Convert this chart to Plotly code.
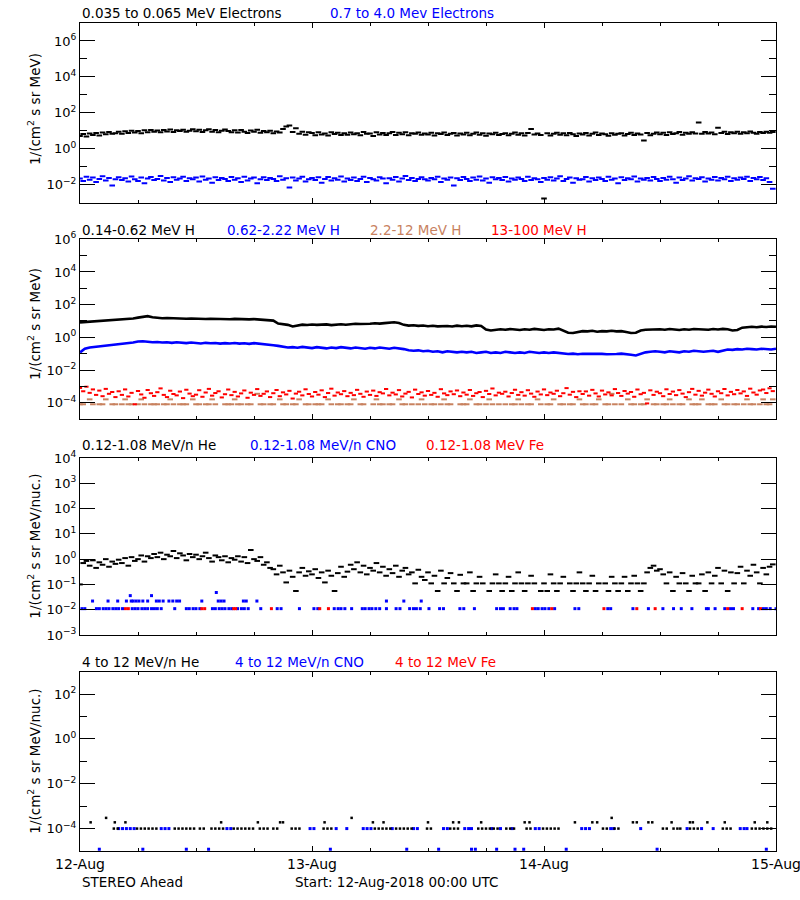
import plotly.graph_objects as go
from datetime import datetime, timedelta

START = datetime(2018, 8, 12)
DAY_LABELS = ["12-Aug", "13-Aug", "14-Aug", "15-Aug"]

# ---------------- Panel 1: electrons (20-min cadence) ----------------
e_low = [
    5.2, 6.6, 4.8, 7.0, 5.8, 7.6, 5.4, 8.0, 6.4, 8.6, 6.9, 7.4,
    8.8, 6.8, 9.4, 7.6, 10.2, 8.0, 9.6, 7.2, 10.6, 8.4, 11.0, 9.0,
    10.4, 8.2, 11.2, 9.2, 12.0, 8.6, 10.8, 9.8, 11.6, 8.8, 10.0, 12.2,
    9.4, 11.4, 8.6, 10.6, 12.4, 9.0, 11.0, 8.2, 10.2, 11.8, 9.6, 8.4,
    10.8, 8.0, 11.2, 9.0, 7.6, 10.4, 8.8, 11.6, 7.8, 9.8, 8.4, 10.0,
    7.4, 9.2, 8.0, 12.5, 17.5, 19.5, 8.6, 14.0, 6.8, 9.0, 6.0, 8.2,
    7.6, 5.6, 8.2, 6.2, 7.0, 5.4, 8.4, 6.6, 7.8, 5.8, 7.2, 6.0,
    8.0, 6.4, 7.4, 5.6, 8.6, 6.8, 7.0, 5.2, 8.2, 6.2, 7.6, 5.8,
    7.2, 8.6, 5.9, 7.8, 6.4, 8.2, 5.6, 7.4, 6.8, 8.0, 6.0, 7.0,
    6.2, 7.8, 5.4, 7.2, 6.6, 8.0, 5.8, 6.9, 7.5, 5.5, 7.1, 6.3,
    7.7, 5.7, 6.8, 8.1, 6.0, 7.3, 5.3, 7.0, 6.5, 7.9, 5.9, 6.7,
    7.4, 5.6, 6.9, 8.0, 6.1, 7.2, 5.4, 7.6, 12.8, 6.3, 7.0, 5.8,
    0.0017, 7.3, 5.5, 6.8, 7.9, 6.0, 7.2, 5.6, 7.6, 6.4, 5.2, 7.0,
    6.2, 7.5, 5.4, 6.9, 8.0, 5.8, 7.1, 6.5, 5.3, 7.4, 6.0, 6.8,
    7.2, 5.5, 6.6, 7.8, 5.9, 7.0, 6.3, 2.9, 7.5, 5.7, 6.9, 8.0,
    6.4, 7.7, 5.8, 8.2, 6.7, 7.3, 8.5, 6.1, 7.9, 6.9, 8.4, 7.1,
    29.0, 6.8, 8.6, 7.0, 8.0, 6.5, 15.0, 7.6, 8.8, 6.6, 8.2, 7.4,
    8.9, 6.9, 8.3, 7.2, 9.1, 7.8, 6.8, 8.7, 7.5, 9.0, 7.7, 8.5,
]
e_high = [
    0.022, 0.016, 0.028, 0.019, 0.025, 0.014, 0.021, 0.030, 0.017, 0.024, 0.009, 0.020,
    0.026, 0.018, 0.023, 0.015, 0.029, 0.020, 0.016, 0.025, 0.012, 0.022, 0.027, 0.018,
    0.021, 0.031, 0.017, 0.024, 0.014, 0.026, 0.019, 0.022, 0.028, 0.016, 0.023, 0.020,
    0.025, 0.015, 0.029, 0.019, 0.022, 0.013, 0.026, 0.018, 0.024, 0.021, 0.016, 0.027,
    0.019, 0.023, 0.014, 0.028, 0.017, 0.022, 0.025, 0.012, 0.020, 0.026, 0.018, 0.024,
    0.021, 0.016, 0.030, 0.019, 0.023, 0.007, 0.025, 0.017, 0.022, 0.028, 0.015, 0.020,
    0.024, 0.018, 0.026, 0.013, 0.021, 0.027, 0.017, 0.023, 0.019, 0.029, 0.015, 0.022,
    0.018, 0.025, 0.016, 0.021, 0.028, 0.014, 0.024, 0.020, 0.017, 0.026, 0.022, 0.012,
    0.023, 0.019, 0.027, 0.015, 0.022, 0.031, 0.018, 0.024, 0.016, 0.021, 0.026, 0.020,
    0.017, 0.024, 0.020, 0.028, 0.014, 0.022, 0.019, 0.025, 0.009, 0.023, 0.018, 0.027,
    0.021, 0.016, 0.025, 0.019, 0.029, 0.017, 0.022, 0.013, 0.026, 0.020, 0.024, 0.018,
    0.027, 0.015, 0.022, 0.019, 0.025, 0.021, 0.016, 0.028, 0.018, 0.023, 0.020, 0.014,
    0.024, 0.019, 0.026, 0.017, 0.022, 0.030, 0.016, 0.021, 0.025, 0.013, 0.023, 0.019,
    0.020, 0.027, 0.015, 0.023, 0.018, 0.025, 0.021, 0.016, 0.028, 0.019, 0.022, 0.012,
    0.026, 0.018, 0.023, 0.020, 0.029, 0.015, 0.022, 0.019, 0.024, 0.017, 0.027, 0.021,
    0.016, 0.024, 0.019, 0.028, 0.020, 0.013, 0.025, 0.018, 0.022, 0.030, 0.017, 0.023,
    0.021, 0.026, 0.015, 0.022, 0.019, 0.027, 0.017, 0.024, 0.020, 0.028, 0.016, 0.023,
    0.019, 0.025, 0.021, 0.028, 0.016, 0.024, 0.020, 0.027, 0.018, 0.023, 0.014, 0.006,
]

# ---------------- Panel 2: protons ----------------
# 30-min cadence
h_low = [
    8.2, 8.6, 9.0, 9.3, 9.8, 10.2, 10.6, 11.0, 11.5, 12.0,
    13.0, 14.2, 16.0, 18.5, 19.8, 17.0, 15.5, 14.8, 15.2, 14.6,
    14.0, 14.5, 13.8, 14.2, 13.6, 13.9, 13.2, 13.8, 13.4, 13.0,
    13.3, 12.8, 13.5, 12.9, 13.1, 12.6, 13.0, 12.4, 12.8, 12.2,
    10.5, 7.0, 6.2, 5.8, 4.6, 5.5, 6.0, 5.7, 6.1, 5.8,
    5.9, 6.2, 5.6, 6.0, 6.3, 5.9, 6.4, 6.8, 6.5, 7.0,
    6.8, 7.2, 6.9, 7.4, 7.8, 8.4, 7.5, 5.8, 5.2, 5.5,
    5.0, 5.3, 4.8, 5.1, 4.7, 5.0, 4.9, 4.6, 5.2, 4.8,
    5.1, 4.7, 5.4, 5.0, 3.0, 2.6, 2.8, 3.1, 2.9, 3.2,
    3.0, 2.8, 3.1, 2.9, 3.3, 3.0, 2.8, 3.1, 3.0, 3.4,
    2.4, 1.9, 1.85, 2.2, 2.4, 2.3, 2.5, 2.2, 2.4, 2.3,
    2.5, 2.3, 2.4, 2.1, 1.85, 1.9, 2.6, 2.9, 3.0, 2.8,
    3.1, 2.9, 3.2, 3.0, 2.8, 3.1, 2.9, 3.2, 3.0, 3.1,
    2.9, 3.2, 3.0, 3.3, 3.1, 2.6, 2.8, 3.9, 4.2, 4.4,
    4.1, 4.5, 4.3, 4.6, 4.4,
]
h_mid = [
    0.12, 0.20, 0.24, 0.26, 0.28, 0.30, 0.32, 0.34, 0.36, 0.38,
    0.42, 0.48, 0.55, 0.58, 0.54, 0.50, 0.52, 0.48, 0.50, 0.46,
    0.50, 0.47, 0.44, 0.48, 0.45, 0.42, 0.46, 0.43, 0.45, 0.41,
    0.44, 0.42, 0.45, 0.41, 0.43, 0.40, 0.44, 0.42, 0.40, 0.38,
    0.33, 0.30, 0.26, 0.24, 0.25, 0.23, 0.26, 0.24, 0.22, 0.25,
    0.23, 0.21, 0.24, 0.22, 0.25, 0.23, 0.21, 0.24, 0.22, 0.20,
    0.23, 0.21, 0.24, 0.22, 0.20, 0.23, 0.22, 0.19, 0.16, 0.15,
    0.16, 0.14, 0.15, 0.13, 0.14, 0.12, 0.14, 0.13, 0.12, 0.13,
    0.12, 0.13, 0.11, 0.12, 0.13, 0.11, 0.12, 0.11, 0.13, 0.12,
    0.11, 0.12, 0.11, 0.13, 0.12, 0.11, 0.12, 0.11, 0.12, 0.11,
    0.100, 0.095, 0.100, 0.092, 0.098, 0.100, 0.094, 0.100, 0.097, 0.093,
    0.099, 0.095, 0.100, 0.096, 0.085, 0.078, 0.100, 0.12, 0.13, 0.14,
    0.13, 0.12, 0.14, 0.13, 0.12, 0.14, 0.13, 0.15, 0.14, 0.13,
    0.14, 0.15, 0.13, 0.16, 0.18, 0.17, 0.19, 0.18, 0.20, 0.19,
    0.18, 0.20, 0.19, 0.18, 0.20,
]
# 20-min cadence
h_brown = [
    8e-5, 8e-5, None, 1.6e-4, 8e-5, None, 8e-5, 8e-5, 1.6e-4, None, 8e-5, 8e-5,
    None, 8e-5, 1.6e-4, 8e-5, 8e-5, None, 8e-5, 1.6e-4, 8e-5, None, 8e-5, 8e-5,
    8e-5, None, 8e-5, 8e-5, 1.6e-4, 8e-5, None, 8e-5, 8e-5, 8e-5, None, 1.6e-4,
    8e-5, 8e-5, None, 8e-5, 8e-5, 1.6e-4, 8e-5, None, None, 8e-5, 8e-5, 8e-5,
    1.6e-4, 8e-5, 8e-5, None, 8e-5, 8e-5, None, 3.5e-4, 8e-5, 8e-5, None, 8e-5,
    8e-5, None, 1.6e-4, 8e-5, 8e-5, None, 8e-5, 8e-5, 1.6e-4, None, 8e-5, 8e-5,
    None, 8e-5, 8e-5, 8e-5, None, 1.6e-4, 8e-5, None, 8e-5, 8e-5, None, 8e-5,
    8e-5, 1.6e-4, None, 8e-5, 8e-5, None, None, 8e-5, 1.6e-4, 8e-5, 8e-5, None,
    8e-5, 8e-5, None, 1.6e-4, 8e-5, 8e-5, None, 8e-5, None, 8e-5, 1.6e-4, 8e-5,
    None, 8e-5, 8e-5, None, 8e-5, 1.6e-4, 8e-5, 8e-5, None, None, 8e-5, 8e-5,
    8e-5, 1.6e-4, None, 8e-5, 8e-5, None, 8e-5, 1.6e-4, 8e-5, None, 8e-5, None,
    8e-5, None, 8e-5, 8e-5, 1.6e-4, 8e-5, None, 8e-5, 8e-5, None, 1.6e-4, 8e-5,
    None, 8e-5, 8e-5, 1.6e-4, None, 8e-5, 8e-5, None, 8e-5, 8e-5, None, 1.6e-4,
    8e-5, 8e-5, None, 8e-5, 8e-5, 1.6e-4, None, 8e-5, 8e-5, 3.5e-4, 8e-5, None,
    8e-5, None, 1.6e-4, 8e-5, 8e-5, None, 8e-5, 8e-5, 1.6e-4, None, 8e-5, 8e-5,
    None, 8e-5, 8e-5, 1.6e-4, 8e-5, None, 8e-5, 8e-5, None, 1.6e-4, 8e-5, 8e-5,
    8e-5, 1.6e-4, None, 8e-5, 8e-5, 8e-5, None, 1.6e-4, 8e-5, 8e-5, None, 8e-5,
    8e-5, None, 8e-5, 1.6e-4, 8e-5, 8e-5, None, 8e-5, 1.6e-4, 8e-5, 8e-5, 1.6e-4,
]
h_high = [
    8e-4, 5e-4, 9.5e-4, 4e-4, 6.5e-4, 3e-4, 5.5e-4, 2.5e-4, 7e-4, 3.5e-4, 4.5e-4, 2.2e-4,
    5e-4, 3e-4, 6.5e-4, 2.4e-4, 4e-4, 8e-5, 5.2e-4, 3.2e-4, 2e-4, 6e-4, 3.8e-4, 2.6e-4,
    4.4e-4, 7.5e-4, 3e-4, 2.2e-4, 5.4e-4, 3.4e-4, 2.8e-4, 4.8e-4, 1.9e-4, 6.2e-4, 3.6e-4, 2.5e-4,
    3.1e-4, 5.8e-4, 2.3e-4, 4.2e-4, 7e-4, 2.7e-4, 3.9e-4, 5e-4, 2.1e-4, 3.3e-4, 6.4e-4, 2.9e-4,
    4.6e-4, 2.4e-4, 3.7e-4, 5.6e-4, 2e-4, 4.1e-4, 3e-4, 6.8e-4, 2.6e-4, 3.5e-4, 4.9e-4, 2.2e-4,
    3.8e-4, 6e-4, 2.5e-4, 4.3e-4, 3.2e-4, 5.3e-4, 1.8e-4, 3.6e-4, 4.7e-4, 2.8e-4, 6.6e-4, 3.4e-4,
    2.4e-4, 4.5e-4, 3.1e-4, 5.7e-4, 2.2e-4, 3.9e-4, 7.2e-4, 2.7e-4, 4.2e-4, 3.3e-4, 5.1e-4, 2.5e-4,
    4e-4, 2.9e-4, 6.1e-4, 3.5e-4, 2.3e-4, 4.8e-4, 3e-4, 5.5e-4, 2.6e-4, 4.4e-4, 3.7e-4, 6.9e-4,
    2.8e-4, 4.1e-4, 3.2e-4, 5.9e-4, 2.4e-4, 3.6e-4, 4.6e-4, 2.1e-4, 6.3e-4, 3.4e-4, 4.3e-4, 2.7e-4,
    5.2e-4, 3e-4, 4e-4, 2.3e-4, 6.7e-4, 3.7e-4, 2.9e-4, 4.9e-4, 3.3e-4, 5.6e-4, 2.5e-4, 4.2e-4,
    3.1e-4, 6e-4, 2.6e-4, 3.8e-4, 4.5e-4, 2.2e-4, 5.3e-4, 3.4e-4, 7.4e-4, 2.8e-4, 4.1e-4, 3.5e-4,
    4.7e-4, 2.4e-4, 3.9e-4, 6.2e-4, 3e-4, 4.4e-4, 2.7e-4, 5.8e-4, 3.6e-4, 2.3e-4, 4.8e-4, 3.2e-4,
    6.5e-4, 2.9e-4, 4.2e-4, 3.5e-4, 5.4e-4, 2.5e-4, 3.8e-4, 7.8e-4, 3.1e-4, 4.6e-4, 2.2e-4, 5e-4,
    3.4e-4, 4.9e-4, 2.7e-4, 6.1e-4, 3.7e-4, 2.4e-4, 5.5e-4, 3.2e-4, 4.3e-4, 2.8e-4, 6.8e-4, 3.9e-4,
    2.6e-4, 5.2e-4, 3.6e-4, 4.5e-4, 2.3e-4, 6.4e-4, 3.3e-4, 4e-4, 9e-5, 5.7e-4, 3e-4, 4.7e-4,
    3.8e-4, 2.5e-4, 6.6e-4, 3.4e-4, 4.8e-4, 2.9e-4, 5.9e-4, 3.6e-4, 2.2e-4, 4.4e-4, 7e-4, 3.1e-4,
    5.3e-4, 2.7e-4, 4.1e-4, 6.3e-4, 3.5e-4, 2.4e-4, 5e-4, 3.8e-4, 6.9e-4, 2.8e-4, 4.6e-4, 3.3e-4,
    6e-4, 3.7e-4, 4.9e-4, 2.6e-4, 7.2e-4, 4.2e-4, 3.1e-4, 5.6e-4, 6.4e-4, 3.9e-4, 7.6e-4, 5.1e-4,
]

# ---------------- Panel 3: 0.12-1.08 MeV/n heavy ions ----------------
he_low = [
    0.1, 0.7, 0.85, 0.55, 0.9, 0.45, 0.75, 0.6, 1.0, 0.5, 0.8, 0.65,
    0.95, 0.7, 1.1, 0.55, 1.2, 0.85, 1.0, 1.4, 0.8, 1.3, 1.1, 1.6,
    1.2, 1.8, 1.0, 1.5, 1.3, 2.1, 1.1, 1.7, 1.4, 0.9, 1.6, 1.2,
    1.5, 1.0, 1.3, 1.8, 1.1, 0.8, 1.4, 1.2, 0.9, 1.3, 0.75, 1.1,
    0.95, 1.3, 0.8, 1.2, 0.7, 2.3, 1.0, 0.85, 1.2, 0.6, 0.75, 0.45,
    0.4, 0.25, 0.55, 0.3, 0.12, 0.35, 0.2, 0.055, 0.3, 0.45, 0.22, 0.33,
    0.25, 0.4, 0.18, 0.3, 0.12, 0.35, 0.22, 0.055, 0.28, 0.5, 0.2, 0.32,
    0.6, 0.4, 0.75, 0.3, 0.55, 0.25, 0.45, 0.35, 0.7, 0.3, 0.5, 0.22,
    0.4, 0.28, 0.55, 0.2, 0.35, 0.45, 0.25, 0.3, 0.11, 0.38, 0.2, 0.15,
    0.3, 0.11, 0.22, 0.055, 0.35, 0.11, 0.18, 0.28, 0.11, 0.055, 0.24, 0.11,
    0.11, 0.3, 0.055, 0.11, 0.2, 0.11, None, 0.055, 0.11, 0.25, 0.11, 0.055,
    0.11, 0.2, 0.055, 0.11, 0.3, 0.11, 0.055, 0.11, 0.22, 0.11, None, 0.055,
    0.11, 0.055, 0.25, 0.11, 0.055, 0.11, 0.2, None, 0.11, 0.055, 0.11, 0.3,
    0.11, 0.055, 0.11, 0.22, 0.055, 0.11, None, 0.11, 0.055, 0.2, 0.11, 0.055,
    0.11, 0.2, 0.055, 0.11, 0.22, 0.11, 0.055, 0.11, 0.3, 0.45, 0.55, 0.35,
    0.4, 0.25, 0.11, 0.3, 0.055, 0.2, 0.11, 0.28, 0.11, 0.055, 0.22, 0.11,
    0.11, 0.25, 0.055, 0.3, 0.11, 0.22, 0.45, 0.11, 0.35, 0.055, 0.3, 0.11,
    0.28, 0.5, 0.11, 0.35, 0.22, 0.6, 0.3, 0.11, 0.45, 0.25, 0.5, 0.62,
]
cno_low_hours = [
    0.2, 0.5, 1.7, 2.0, 2.4, 2.7, 3.0, 3.4, 3.7, 4.0, 4.4, 5.4, 5.7, 6.0, 6.4,
    6.7, 7.0, 7.4, 7.7, 8.0, 8.4, 9.8, 11.0, 11.3, 11.7, 12.0, 12.4, 13.7, 14.0,
    14.4, 14.7, 15.0, 15.4, 15.7, 16.3, 16.7, 17.0, 17.4, 18.7, 20.4, 20.8, 22.7,
    24.2, 24.6, 26.3, 26.7, 27.0, 27.4, 28.1, 29.2, 29.5, 29.9, 30.2, 30.6, 31.0,
    31.7, 32.7, 33.1, 34.1, 34.5, 34.8, 35.2, 36.1, 37.2, 37.6, 39.3, 39.7, 40.8,
    43.1, 43.5, 43.8, 44.5, 44.9, 45.2, 47.1, 47.4, 47.8, 48.1, 48.5, 49.1, 51.2,
    51.6, 54.6, 54.9, 57.2, 58.8, 60.3, 61.4, 62.2, 63.3, 64.8, 65.0, 65.7, 66.7,
    67.3, 67.6, 69.6, 70.2, 70.7, 71.0, 71.4, 72.0,
    1.3, 2.9, 3.9, 4.8, 5.3, 5.5, 5.8, 6.1, 6.5, 7.0, 7.9, 8.2, 8.6, 9.2, 9.6,
    10.0, 10.3, 12.6, 14.3, 14.6, 14.9, 16.9, 17.2, 18.3, 31.7, 33.5, 35.3,
    5.2, 7.4, 14.1,
]
cno_low_vals = [
    0.011, 0.011, 0.011, 0.011, 0.011, 0.011, 0.011, 0.011, 0.011, 0.011, 0.011, 0.011, 0.011, 0.011, 0.011,
    0.011, 0.011, 0.011, 0.011, 0.011, 0.011, 0.011, 0.011, 0.011, 0.011, 0.011, 0.011, 0.011, 0.011,
    0.011, 0.011, 0.011, 0.011, 0.011, 0.011, 0.011, 0.011, 0.011, 0.011, 0.011, 0.011, 0.011,
    0.011, 0.011, 0.011, 0.011, 0.011, 0.011, 0.011, 0.011, 0.011, 0.011, 0.011, 0.011, 0.011,
    0.011, 0.011, 0.011, 0.011, 0.011, 0.011, 0.011, 0.011, 0.011, 0.011, 0.011, 0.011, 0.011,
    0.011, 0.011, 0.011, 0.011, 0.011, 0.011, 0.011, 0.011, 0.011, 0.011, 0.011, 0.011, 0.011,
    0.011, 0.011, 0.011, 0.011, 0.011, 0.011, 0.011, 0.011, 0.011, 0.011, 0.011, 0.011, 0.011,
    0.011, 0.011, 0.011, 0.011, 0.011, 0.011, 0.011, 0.011,
    0.022, 0.022, 0.022, 0.022, 0.022, 0.022, 0.022, 0.022, 0.022, 0.022, 0.022, 0.022, 0.022, 0.022, 0.022,
    0.022, 0.022, 0.022, 0.022, 0.022, 0.022, 0.022, 0.022, 0.022, 0.022, 0.022, 0.022,
    0.036, 0.036, 0.048,
]
fe_low_hours = [4.7, 5.0, 12.6, 12.9, 15.9, 16.1, 19.8, 24.8, 25.7, 46.8, 48.8,
                54.2, 57.6, 59.5, 67.0, 68.5, 70.4]
fe_low_vals = [0.011, 0.011, 0.011, 0.011, 0.011, 0.011, 0.011, 0.011, 0.011, 0.011, 0.011,
               0.011, 0.011, 0.011, 0.011, 0.011, 0.011]

# ---------------- Panel 4: 4-12 MeV/n heavy ions ----------------
he_high_hours = [
    1.1, 2.7, 3.6, 4.7, 14.6, 18.4, 20.7, 21.0, 25.3, 28.1, 30.3, 31.4, 36.0,
    38.6, 39.2, 41.5, 46.0, 46.5, 51.2, 53.0, 53.5, 55.0, 57.2, 57.6, 58.8, 59.2,
    61.2, 63.1, 63.4, 64.9, 66.7, 69.8, 71.1,
    3.5, 3.9, 5.9, 6.3, 6.7, 7.1, 7.5, 7.9, 9.8, 10.2, 10.6, 11.0, 11.4, 11.8,
    12.4, 12.8, 13.6, 14.0, 14.4, 14.8, 15.9, 16.3, 16.7, 17.1, 17.5, 17.9, 18.6,
    19.0, 19.4, 20.0, 20.4, 21.9, 22.3, 22.7, 25.2, 25.6, 26.0, 30.5, 30.9, 31.3,
    31.7, 32.1, 32.7, 33.1, 33.5, 33.9, 34.3, 35.9, 36.3, 38.3, 38.7, 39.1, 41.2,
    41.6, 42.0, 42.4, 42.8, 43.2, 44.1, 44.5, 44.9, 46.2, 46.6, 47.9, 48.3, 48.7,
    49.1, 49.5, 54.1, 54.5, 55.3, 55.7, 60.3, 60.7, 61.4, 61.8, 62.1, 63.1, 63.5,
    63.9, 66.5, 66.9, 67.3, 69.5, 69.9, 70.3, 70.7, 71.1, 71.5, 71.9,
]
he_high_vals = [
    1.9e-4, 3e-4, 1.9e-4, 1.9e-4, 1.9e-4, 1.9e-4, 1.9e-4, 1.9e-4, 1.9e-4, 3e-4, 1.9e-4, 1.9e-4, 1.9e-4,
    1.9e-4, 1.9e-4, 1.9e-4, 1.9e-4, 1.9e-4, 1.9e-4, 1.9e-4, 1.9e-4, 3e-4, 1.9e-4, 1.9e-4, 1.9e-4, 1.9e-4,
    1.9e-4, 1.9e-4, 1.9e-4, 1.9e-4, 1.9e-4, 1.9e-4, 1.9e-4,
    1e-4, 1e-4, 1e-4, 1e-4, 1e-4, 1e-4, 1e-4, 1e-4, 1e-4, 1e-4, 1e-4, 1e-4, 1e-4, 1e-4,
    1e-4, 1e-4, 1e-4, 1e-4, 1e-4, 1e-4, 1e-4, 1e-4, 1e-4, 1e-4, 1e-4, 1e-4, 1e-4,
    1e-4, 1e-4, 1e-4, 1e-4, 1e-4, 1e-4, 1e-4, 1e-4, 1e-4, 1e-4, 1e-4, 1e-4, 1e-4,
    1e-4, 1e-4, 1e-4, 1e-4, 1e-4, 1e-4, 1e-4, 1e-4, 1e-4, 1e-4, 1e-4, 1e-4, 1e-4,
    1e-4, 1e-4, 1e-4, 1e-4, 1e-4, 1e-4, 1e-4, 1e-4, 1e-4, 1e-4, 1e-4, 1e-4, 1e-4,
    1e-4, 1e-4, 1e-4, 1e-4, 1e-4, 1e-4, 1e-4, 1e-4, 1e-4, 1e-4, 1e-4, 1e-4, 1e-4,
    1e-4, 1e-4, 1e-4, 1e-4, 1e-4, 1e-4, 1e-4, 1e-4, 1e-4, 1e-4,
]
cno_high_hours = [
    2.0, 6.5, 11.0, 13.3, 25.9, 33.8, 37.1, 40.5, 40.9, 43.1, 45.0, 45.9, 50.3, 59.7, 71.0,
    4.0, 4.4, 4.8, 5.2, 5.6, 8.4, 8.8, 9.2, 15.2, 15.6, 23.8, 24.2, 26.5, 27.6, 29.3,
    29.7, 30.1, 32.3, 34.5, 34.9, 37.6, 38.0, 39.8, 40.2, 40.5, 42.6, 43.5, 44.7, 47.1,
    47.5, 51.9, 52.3, 52.7, 54.9, 55.2, 58.0, 62.8, 64.3, 65.5, 68.3, 68.7, 69.0,
]
cno_high_vals = [
    1.2e-5, 1.2e-5, 1.2e-5, 1.2e-5, 1.2e-5, 1.2e-5, 1.2e-5, 1.2e-5, 1.2e-5, 1.2e-5, 1.2e-5, 1.2e-5, 1.2e-5, 1.2e-5, 1.2e-5,
    1e-4, 1e-4, 1e-4, 1e-4, 1e-4, 1e-4, 1e-4, 1e-4, 1e-4, 1e-4, 1e-4, 1e-4, 1e-4, 1e-4, 1e-4,
    1e-4, 1e-4, 1e-4, 1e-4, 1e-4, 1e-4, 1e-4, 1e-4, 1e-4, 1e-4, 1e-4, 1e-4, 1e-4, 1e-4,
    1e-4, 1e-4, 1e-4, 1e-4, 1e-4, 1e-4, 1e-4, 1e-4, 1e-4, 1e-4, 1e-4, 1e-4, 1e-4,
]

# ---------------- helpers ----------------
FONT = "DejaVu Sans"
BROWN = "#C8825F"


def cadence(n, minutes):
    return [START + timedelta(minutes=minutes * i) for i in range(n)]


def at_hours(hours):
    return [START + timedelta(hours=h) for h in hours]


fig = go.Figure()


def dots(x, y, color, axis, size=3):
    fig.add_trace(go.Scatter(x=x, y=y, mode="markers", xaxis=axis[0], yaxis=axis[1],
                             marker=dict(symbol="square", size=size, color=color, line=dict(width=0)),
                             showlegend=False, hoverinfo="skip"))


def dashes(x, y, color, axis, size=4, width=2):
    fig.add_trace(go.Scatter(x=x, y=y, mode="markers", xaxis=axis[0], yaxis=axis[1],
                             marker=dict(symbol="line-ew", size=size, color=color,
                                         line=dict(width=width, color=color)),
                             showlegend=False, hoverinfo="skip"))


def line(x, y, color, axis):
    fig.add_trace(go.Scatter(x=x, y=y, mode="lines", xaxis=axis[0], yaxis=axis[1],
                             line=dict(color=color, width=2.6), showlegend=False, hoverinfo="skip"))


A1, A2, A3, A4 = ("x", "y"), ("x2", "y2"), ("x3", "y3"), ("x4", "y4")

dashes(cadence(len(e_low), 20), e_low, "black", A1, 4, 2)
dashes(cadence(len(e_high), 20), e_high, "blue", A1, 4, 2)

line(cadence(len(h_low), 30), h_low, "black", A2)
line(cadence(len(h_mid), 30), h_mid, "blue", A2)
dashes(cadence(len(h_brown), 20), h_brown, BROWN, A2, 4, 2)
dashes(cadence(len(h_high), 20), h_high, "red", A2, 3, 2)

dashes(cadence(len(he_low), 20), he_low, "black", A3, 4, 2)
dots(at_hours(cno_low_hours), cno_low_vals, "blue", A3, 3)
dots(at_hours(fe_low_hours), fe_low_vals, "red", A3, 3)

dots(at_hours(cno_high_hours), cno_high_vals, "blue", A4, 3)
dots(at_hours(he_high_hours), he_high_vals, "black", A4, 2.5)

# ---------------- axes ----------------
def sup(m):
    s = str(m).replace("-", "\u2212")
    return f"10<sup>{s}</sup>"


def xax(anchor, labels):
    return dict(
        type="date", domain=[0, 1], anchor=anchor, automargin=False,
        range=[START, START + timedelta(days=3)],
        showline=True, linecolor="black", linewidth=1, mirror="ticks",
        ticks="inside", ticklen=5, tickwidth=1, tickcolor="black",
        tickmode="array", tickvals=[START + timedelta(days=d) for d in range(4)],
        ticktext=DAY_LABELS, showticklabels=labels, ticklabeloverflow="allow",
        tickfont=dict(family=FONT, size=14, color="black"),
        showgrid=False, zeroline=False,
        minor=dict(ticks="inside", ticklen=3, tickwidth=1, tickcolor="black",
                   dtick=6 * 3600 * 1000, tick0=START, showgrid=False),
    )


def yax(anchor, domain, lo, hi, majors, minors):
    return dict(
        type="log", domain=domain, anchor=anchor, range=[lo, hi], automargin=False,
        showline=True, linecolor="black", linewidth=1, mirror="ticks",
        ticks="inside", ticklen=15, tickwidth=1, tickcolor="black",
        tickmode="array", tickvals=[10.0 ** m for m in majors],
        ticktext=[sup(m) for m in majors],
        tickfont=dict(family=FONT, size=13, color="black"),
        showgrid=False, zeroline=False,
        minor=dict(ticks="inside", ticklen=7, tickwidth=1, tickcolor="black",
                   tickmode="array", tickvals=[10.0 ** m for m in minors], showgrid=False),
    )


D1 = [0.783, 1.0]
D2 = [0.5217, 0.7388]
D3 = [0.2609, 0.4746]
D4 = [0.0, 0.2166]

fig.update_layout(
    width=800, height=900, autosize=False,
    margin=dict(l=80, r=24, t=23, b=49, autoexpand=False),
    paper_bgcolor="white", plot_bgcolor="white",
    font=dict(family=FONT, size=13, color="black"),
    xaxis=xax("y", False), xaxis2=xax("y2", False), xaxis3=xax("y3", False), xaxis4=xax("y4", True),
    yaxis=yax("x", D1, -3, 7, [-2, 0, 2, 4, 6], [-1, 1, 3, 5]),
    yaxis2=yax("x2", D2, -5, 6, [-4, -2, 0, 2, 4, 6], [-3, -1, 1, 3, 5]),
    yaxis3=yax("x3", D3, -3, 4, [-3, -2, -1, 0, 1, 2, 3, 4], []),
    yaxis4=yax("x4", D4, -5, 3, [-4, -2, 0, 2], [-3, -1, 1]),
)

# page-pixel -> paper coordinates (plot area spans x 80..776, y 23..851)
PX = lambda p: (p - 80) / 696.0
PY = lambda p: (851 - p) / 828.0

titles = [
    ("0.035 to 0.065 MeV Electrons", 80, 13.3, "black"),
    ("0.7 to 4.0 Mev Electrons", 328, 13.3, "blue"),
    ("0.14-0.62 MeV H", 80, 230, "black"),
    ("0.62-2.22 MeV H", 225, 230, "blue"),
    ("2.2-12 MeV H", 368, 230, BROWN),
    ("13-100 MeV H", 489, 230, "red"),
    ("0.12-1.08 MeV/n He", 80, 445, "black"),
    ("0.12-1.08 MeV/n CNO", 248, 445, "blue"),
    ("0.12-1.08 MeV Fe", 424, 445, "red"),
    ("4 to 12 MeV/n He", 80, 661.7, "black"),
    ("4 to 12 MeV/n CNO", 232.7, 661.7, "blue"),
    ("4 to 12 MeV Fe", 392.7, 661.7, "red"),
]
ann = []
for txt, px, py, col in titles:
    ann.append(dict(text=txt, x=PX(px), y=PY(py), xref="paper", yref="paper",
                    xanchor="left", yanchor="middle", showarrow=False,
                    font=dict(family=FONT, size=13.5, color=col)))

ytitles = [
    ("1/(cm<sup>2</sup> s sr MeV)", 109),
    ("1/(cm<sup>2</sup> s sr MeV)", 324),
    ("1/(cm<sup>2</sup> s sr MeV/nuc.)", 546.7),
    ("1/(cm<sup>2</sup> s sr MeV/nuc.)", 761.7),
]
for txt, py in ytitles:
    ann.append(dict(text=txt, x=PX(34), y=PY(py), xref="paper", yref="paper",
                    xanchor="center", yanchor="middle", textangle=-90, showarrow=False,
                    font=dict(family=FONT, size=13.5, color="black")))

ann.append(dict(text="STEREO Ahead", x=PX(80), y=PY(882), xref="paper", yref="paper",
                xanchor="left", yanchor="middle", showarrow=False,
                font=dict(family=FONT, size=13.5, color="black")))
ann.append(dict(text="Start: 12-Aug-2018 00:00 UTC", x=PX(292.5), y=PY(882), xref="paper", yref="paper",
                xanchor="left", yanchor="middle", showarrow=False,
                font=dict(family=FONT, size=13.5, color="black")))

fig.update_layout(annotations=ann)
# remove the default page margin so the 800x900 figure fills the window exactly
fig.write_html("out.html", config={"displayModeBar": False}, post_script=(
    "document.body.style.margin='0px';"
    "document.documentElement.style.overflow='hidden';"
    "document.body.style.overflow='hidden';"
))
